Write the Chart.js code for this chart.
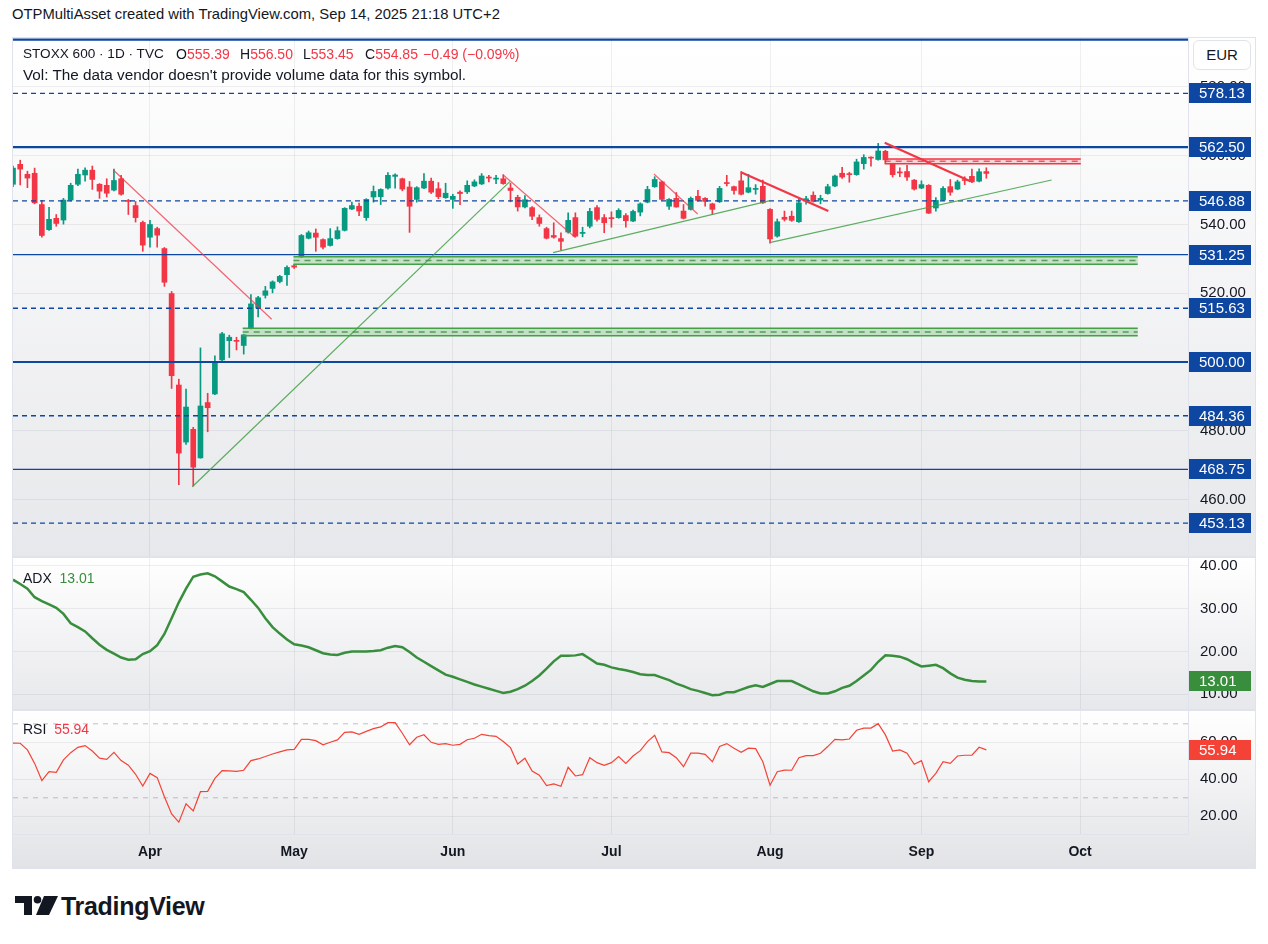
<!DOCTYPE html>
<html>
<head>
<meta charset="utf-8">
<script src="https://cdn.jsdelivr.net/npm/chart.js@4.4.1/dist/chart.umd.min.js"></script>
<style>
html,body{margin:0;padding:0;background:#fff;}
body{width:1268px;height:944px;position:relative;overflow:hidden;font-family:"Liberation Sans",Arial,sans-serif;color:#131722;}
.a{position:absolute;white-space:nowrap;}
canvas{position:absolute;display:block;}
.r{color:#f23645;}
.g{color:#388e3c;}
</style>
</head>
<body>
<div class="a" style="left:12px;top:5px;font-size:14.8px;line-height:18px;">OTPMultiAsset created with TradingView.com, Sep 14, 2025 21:18 UTC+2</div>
<div class="a" style="left:12px;top:37px;width:1242px;height:830px;border:1px solid #e0e3eb;"></div>
<canvas id="cPrice" width="1242" height="518" style="left:13px;top:38px;"></canvas>
<div class="a" style="left:13px;top:556px;width:1242px;height:2px;background:#e0e3eb;"></div>
<canvas id="cAdx" width="1242" height="151" style="left:13px;top:558px;"></canvas>
<div class="a" style="left:13px;top:709px;width:1242px;height:2px;background:#e0e3eb;"></div>
<canvas id="cRsi" width="1242" height="157" style="left:13px;top:711px;"></canvas>

<div class="a" style="left:23px;top:45px;font-size:13.6px;line-height:18px;">STOXX 600 · 1D · TVC</div>
<div class="a" id="lgO" style="left:176px;top:45px;font-size:14px;line-height:18px;"></div>
<div class="a" id="lgH" style="left:240px;top:45px;font-size:14px;line-height:18px;"></div>
<div class="a" id="lgL" style="left:303px;top:45px;font-size:14px;line-height:18px;"></div>
<div class="a" id="lgC" style="left:365px;top:45px;font-size:14px;line-height:18px;"></div>
<div class="a r" id="lgChg" style="left:423px;top:45px;font-size:14px;line-height:18px;"></div>
<div class="a" style="left:23px;top:66px;font-size:15.3px;line-height:18px;">Vol: The data vendor doesn't provide volume data for this symbol.</div>
<div class="a" style="left:1193px;top:40px;width:56px;height:28px;border:1px solid #e0e3eb;border-radius:6px;background:#fff;font-size:15px;line-height:28px;text-align:center;">EUR</div>

<div class="a" id="lgAdx" style="left:23px;top:569px;font-size:14px;line-height:18px;"></div>
<div class="a" id="lgRsi" style="left:23px;top:720px;font-size:14px;line-height:18px;"></div>

<svg class="a" style="left:15px;top:896px;" width="44" height="20" viewBox="0 0 44 20">
 <path d="M0 0H17V19H9V7H0Z" fill="#131722"/>
 <circle cx="22.5" cy="3.8" r="3.8" fill="#131722"/>
 <path d="M29 0H43L34 19H21Z" fill="#131722"/>
</svg>
<div class="a" style="left:61px;top:891px;font-size:25px;font-weight:bold;line-height:30px;letter-spacing:-0.3px;">TradingView</div>

<script>
// ---------------- DATA ----------------
const firstBar = -19; // bar index of first visible candle (Apr 1 = 0)
const opens = [551.7,557.5,554.6,554.9,545.8,538.5,541.8,541.3,547.1,551.7,554.4,555.8,551.7,551.4,550.0,553.3,547.0,545.5,540.6,
536.3,538.8,533.0,519.9,493.3,476.7,480.4,472.1,488.2,490.7,500.6,506.2,506.3,504.8,509.8,515.7,519.4,521.4,523.4,525.4,
528.0,530.6,536.0,537.5,535.6,533.9,535.9,538.3,544.5,545.3,542.0,548.0,548.1,550.6,554.0,553.3,550.9,547.3,550.6,552.6,
550.4,547.8,547.3,549.4,549.5,551.2,551.8,553.8,553.2,553.3,550.6,547.9,545.1,544.9,542.0,538.8,536.8,535.9,537.8,542.0,
537.4,539.5,544.9,542.0,541.9,542.0,542.6,541.0,543.6,546.5,551.0,552.4,545.3,547.6,543.9,544.4,548.2,547.6,546.0,546.6,
552.2,551.0,552.7,549.4,550.2,551.1,544.4,536.6,542.1,542.4,540.8,546.8,548.5,547.1,549.0,551.2,554.9,554.7,554.5,557.7,
559.5,558.9,561.3,557.5,555.3,555.4,552.9,550.6,551.4,544.8,547.1,551.0,550.3,553.0,554.0,552.6,555.39];
const highs = [557.0,558.7,555.5,556.4,547.0,545.0,542.9,547.6,552.0,556.1,556.5,557.0,551.9,553.3,556.1,554.3,547.3,546.7,541.0,
541.2,539.2,533.3,520.5,495.0,492.1,481.0,504.1,490.9,501.8,508.6,507.8,507.2,508.0,519.6,519.1,522.0,523.6,525.2,528.0,
528.4,537.1,538.1,538.7,535.8,538.8,539.3,544.9,546.5,546.2,547.5,551.2,550.4,555.1,554.7,553.5,552.5,551.0,554.8,553.5,
552.2,552.0,548.8,549.8,552.7,553.0,554.8,554.3,554.3,554.5,552.0,548.5,548.4,545.2,542.8,539.2,540.5,537.6,543.4,543.4,
539.2,544.7,545.5,542.9,543.7,544.6,543.2,544.2,546.3,551.1,553.9,552.6,547.5,549.3,545.8,548.0,549.9,547.8,546.2,551.1,
554.3,551.2,555.4,554.6,551.6,552.9,544.6,541.6,543.9,543.9,547.3,548.2,549.5,548.5,551.7,554.4,556.6,555.2,559.0,560.3,
559.7,563.6,561.6,557.8,556.5,557.2,553.1,552.7,551.6,547.8,551.0,553.1,552.9,553.9,556.1,556.2,556.50];
const lows = [551.0,551.5,550.7,546.0,536.3,538.3,539.5,540.1,546.8,551.3,552.6,550.2,547.6,548.0,549.8,548.5,542.9,540.7,532.2,
533.4,533.4,522.0,492.3,464.3,476.0,463.9,472.0,479.7,490.5,500.4,501.3,503.5,502.3,509.6,513.1,518.6,520.1,523.0,522.3,
527.2,530.4,535.8,532.2,532.9,533.7,535.7,538.1,544.3,542.6,541.2,546.5,545.8,550.3,550.6,549.8,537.7,546.5,550.4,549.0,
547.5,547.6,544.7,545.8,549.0,551.0,551.6,552.4,551.9,551.7,546.6,543.9,544.8,541.4,539.5,535.8,536.0,532.5,537.5,536.3,
536.4,539.0,541.0,537.6,539.2,541.8,539.2,540.8,542.5,546.3,550.8,547.1,544.4,545.0,541.6,544.2,546.8,545.3,543.0,546.4,
551.2,548.8,548.6,549.2,548.8,546.1,534.6,536.3,541.0,540.9,540.6,545.9,546.5,546.0,548.8,551.0,553.4,552.3,554.3,556.1,
557.0,558.7,557.8,553.8,553.9,552.8,550.0,550.4,543.2,543.9,546.9,548.5,550.1,551.6,552.2,552.4,553.45];
const closes = [556.4,556.1,553.5,546.3,536.8,541.5,540.3,547.1,551.4,554.6,555.8,553.1,549.7,549.1,552.8,548.8,546.7,542.0,534.0,
540.0,536.9,523.2,496.0,473.5,486.9,469.4,487.2,486.7,499.9,508.2,507.2,506.0,507.9,516.9,518.7,520.7,523.3,524.9,527.5,
527.6,536.8,537.6,536.3,533.4,535.9,538.2,544.7,545.5,543.9,547.3,549.6,550.2,554.3,554.4,550.3,545.3,550.7,552.6,549.4,
548.1,549.1,548.2,549.0,551.4,552.4,554.1,553.5,553.5,551.9,549.9,545.1,547.2,542.4,540.3,536.0,536.3,535.1,541.2,536.6,
537.7,543.8,541.5,540.5,541.7,544.1,541.1,543.8,546.0,550.2,553.1,547.3,547.3,545.1,541.8,547.6,547.0,546.7,544.4,550.5,
551.9,549.9,548.8,550.7,550.5,546.3,535.8,540.8,541.5,541.2,546.3,547.5,546.7,547.6,551.0,554.1,553.8,554.5,558.2,559.5,
559.3,561.4,558.8,554.5,555.0,553.8,550.3,551.6,543.3,547.0,550.5,549.4,552.4,552.8,552.4,555.34,554.85];
const adx = [36.8,35.8,34.7,32.7,31.8,31.0,30.2,28.8,26.6,25.7,24.7,23.1,21.6,20.4,19.5,18.6,18.1,18.2,19.4,
20.1,21.5,24.1,27.8,31.5,34.7,37.5,38.0,38.3,37.6,36.4,35.2,34.6,33.9,32.1,30.2,27.8,25.7,24.2,22.8,
21.7,21.4,21.0,20.3,19.6,19.3,19.2,19.7,20.0,20.0,20.0,20.1,20.3,20.9,21.3,21.0,19.9,18.6,17.6,16.6,
15.6,14.6,14.1,13.5,12.9,12.3,11.8,11.3,10.8,10.3,10.6,11.2,12.0,13.1,14.4,16.0,17.7,19.0,19.0,19.1,
19.4,18.3,17.2,16.9,16.3,15.9,15.6,15.2,14.7,14.5,14.5,13.9,13.3,12.5,11.9,11.2,10.8,10.3,9.8,9.9,
10.5,10.5,11.1,11.7,12.1,11.7,12.4,13.1,13.1,13.1,12.3,11.5,10.7,10.2,10.2,10.7,11.5,12.0,13.1,14.4,
15.7,17.6,19.1,19.0,18.8,18.2,17.3,16.5,16.7,16.9,16.1,14.9,13.9,13.4,13.1,13.0,13.01];
const rsi = [59.6,59.5,55.9,48.6,39.3,44.1,43.8,50.5,54.4,57.3,58.2,55.3,51.4,50.8,54.6,50.1,47.6,42.7,36.4,
43.2,40.9,30.6,21.3,16.8,26.7,22.9,33.3,33.5,40.5,44.7,44.5,44.3,44.9,50.1,51.0,52.3,53.7,54.8,55.9,
56.2,61.6,61.6,60.9,58.6,60.0,61.3,65.4,65.6,64.3,65.9,67.4,68.3,70.6,70.6,64.9,58.7,62.7,64.1,60.0,
58.9,59.3,58.4,58.9,61.4,62.2,64.3,63.6,63.2,60.4,57.1,48.3,51.4,44.5,42.2,36.6,37.5,36.2,46.5,41.8,
42.5,51.7,49.0,47.6,49.0,52.3,48.6,52.6,55.5,60.4,63.8,54.8,54.4,51.7,46.8,54.1,54.1,53.5,49.5,57.7,
59.3,56.8,54.6,56.8,56.6,49.5,36.8,44.1,45.0,44.9,51.7,52.8,52.8,54.1,57.7,61.6,61.3,61.8,66.5,67.7,
67.7,70.1,64.0,55.3,55.9,54.1,48.1,50.1,38.7,43.2,49.5,48.6,52.6,53.0,53.0,57.3,55.94];

const monthTicks = [0, 20, 42, 64, 86, 107, 129];
const monthLabels = ['Apr', 'May', 'Jun', 'Jul', 'Aug', 'Sep', 'Oct'];
const priceTicks = [460, 480, 500, 520, 540, 560, 580];
const adxTicks = [10, 20, 30, 40];
const rsiTicks = [20, 40, 60];
const rsiBands = [70, 30];

const thickLevels = [593.75, 562.50, 500.00];
const thinLevels = [531.25, 468.75];
const dashedLevels = [578.13, 546.88, 515.63, 484.36, 453.13];
const labeledLevels = [578.13, 562.50, 546.88, 531.25, 515.63, 500.00, 484.36, 468.75, 453.13];

// trend lines: [barFrom, priceFrom, barTo, priceTo]
const redTrendsThin = [[-5.09, 555.85, 16.88, 512.42], [49.0, 554.40, 58.95, 536.28], [69.9, 554.69, 75.96, 543.05]];
const redTrendsThick = [[81.97, 555.19, 94.08, 543.93], [101.9, 563.80, 113.7, 552.65]];
const greenTrends = [[5.87, 463.72, 49.9, 552.45], [55.9, 531.80, 86.0, 546.92], [86.1, 534.82, 125.06, 552.95]];
// zones: [barFrom, barTo, priceHigh, priceLow]
const greenZones = [[19.9, 137.0, 530.63, 528.42], [12.86, 137.0, 509.80, 507.65]];
const redZones = [[101.9, 129.1, 559.06, 557.69]];

// ---------------- STYLE ----------------
const GREEN = '#089981', RED = '#f23645', BLUE = '#0d47a1', TXT = '#131722';
const GRID = 'rgba(42,46,57,0.07)', SEP = '#e0e3eb';
const FONT = '"Liberation Sans", Arial, sans-serif';
const xMin = -19.0, xMax = 143.97;
const n = opens.length;
const last = n - 1;

// legend texts from data
document.getElementById('lgO').innerHTML = 'O<span class="r">' + opens[last].toFixed(2) + '</span>';
document.getElementById('lgH').innerHTML = 'H<span class="r">' + highs[last].toFixed(2) + '</span>';
document.getElementById('lgL').innerHTML = 'L<span class="r">' + lows[last].toFixed(2) + '</span>';
document.getElementById('lgC').innerHTML = 'C<span class="r">' + closes[last].toFixed(2) + '</span>';
const chg = closes[last] - closes[last - 1];
const pct = chg / closes[last - 1] * 100;
const fmtS = v => (v < 0 ? '\u2212' : '+') + Math.abs(v).toFixed(2);
document.getElementById('lgChg').textContent = fmtS(chg) + ' (' + fmtS(pct) + '%)';
document.getElementById('lgAdx').innerHTML = 'ADX&nbsp;&nbsp;<span class="g">' + adx[last].toFixed(2) + '</span>';
document.getElementById('lgRsi').innerHTML = 'RSI&nbsp;&nbsp;<span class="r">' + rsi[last].toFixed(2) + '</span>';

// ---------------- PLUGINS ----------------
function bgPlugin(top, bottom) {
  return { id: 'bg', beforeDraw(c) {
    const ctx = c.ctx; const g = ctx.createLinearGradient(0, 0, 0, c.height);
    g.addColorStop(0, top); g.addColorStop(1, bottom);
    ctx.save(); ctx.fillStyle = g; ctx.fillRect(0, 0, c.width, c.height); ctx.restore();
  } };
}
function boxesPlugin(items) {
  return { id: 'boxes', afterDraw(c) {
    const ctx = c.ctx, y = c.scales.y, L = c.chartArea.right;
    ctx.save();
    items.forEach(it => {
      const py = Math.round(y.getPixelForValue(it.v));
      ctx.fillStyle = it.color; ctx.fillRect(L + 1, py - 10, 62, 20);
      ctx.fillStyle = '#fff'; ctx.font = '15px ' + FONT; ctx.textBaseline = 'middle'; ctx.textAlign = 'left';
      ctx.fillText(it.v.toFixed(2), L + 11, py + 1);
    });
    ctx.restore();
  } };
}
const zonesPlugin = { id: 'zones', afterDatasetsDraw(c) {
  const ctx = c.ctx, a = c.chartArea, x = c.scales.x, y = c.scales.y;
  ctx.save(); ctx.beginPath(); ctx.rect(a.left, a.top, a.right - a.left, a.bottom - a.top); ctx.clip();
  const draw = (z, fill, line, mid) => {
    const x1 = x.getPixelForValue(z[0]), x2 = x.getPixelForValue(z[1]);
    const y1 = y.getPixelForValue(z[2]), y2 = y.getPixelForValue(z[3]);
    ctx.fillStyle = fill; ctx.fillRect(x1, y1, x2 - x1, y2 - y1);
    ctx.strokeStyle = line; ctx.lineWidth = 1.5; ctx.setLineDash([]);
    ctx.beginPath(); ctx.moveTo(x1, y1); ctx.lineTo(x2, y1); ctx.moveTo(x1, y2); ctx.lineTo(x2, y2); ctx.stroke();
    const ym = y.getPixelForValue((z[2] + z[3]) / 2);
    ctx.strokeStyle = mid; ctx.lineWidth = 1.5; ctx.setLineDash([6, 5]);
    ctx.beginPath(); ctx.moveTo(x1, ym); ctx.lineTo(x2, ym); ctx.stroke();
  };
  greenZones.forEach(z => draw(z, 'rgba(76,175,80,0.28)', '#43a047', 'rgba(56,142,60,0.8)'));
  redZones.forEach(z => draw(z, 'rgba(242,54,69,0.2)', '#f23645', 'rgba(242,54,69,0.8)'));
  ctx.restore();
} };

// ---------------- SCALES ----------------
const noPad = s => { s.paddingTop = 0; s.paddingBottom = 0; s.paddingLeft = 0; s.paddingRight = 0; };
function xScale(showLabels) {
  return { type: 'linear', min: xMin, max: xMax, offset: false,
    afterBuildTicks: s => { s.ticks = monthTicks.map(v => ({ value: v })); },
    ticks: { display: showLabels, autoSkip: false, maxRotation: 0, padding: 10, color: TXT,
      font: { family: FONT, size: 14, weight: 'bold' },
      callback: v => { const k = monthTicks.indexOf(v); return k >= 0 ? monthLabels[k] : ''; } },
    grid: { color: GRID, drawTicks: false, offset: false },
    border: { display: showLabels, color: SEP },
    afterFit: s => { s.height = showLabels ? 34 : 0; noPad(s); } };
}
function yScale(min, max, ticks) {
  return { type: 'linear', position: 'right', min: min, max: max,
    afterBuildTicks: s => { s.ticks = ticks.map(v => ({ value: v })); },
    ticks: { color: TXT, font: { family: FONT, size: 15 }, padding: 12, callback: v => Number(v).toFixed(2) },
    grid: { color: GRID, drawTicks: false },
    border: { display: true, color: SEP },
    afterFit: s => { s.width = 67; noPad(s); } };
}
const baseOpts = { responsive: false, animation: false, events: [], layout: { padding: 0 },
  plugins: { legend: { display: false }, tooltip: { enabled: false } } };

function seg(t, color, width, order, dash) {
  return { type: 'line', data: [{ x: t[0], y: t[1] }, { x: t[2], y: t[3] }], borderColor: color,
    borderWidth: width, pointRadius: 0, order: order, borderDash: dash || [], tension: 0 };
}

// ---------------- PRICE ----------------
const candleColors = opens.map((o, k) => closes[k] >= o ? GREEN : RED);
const priceDatasets = [];
redTrendsThin.forEach(t => priceDatasets.push(seg(t, 'rgba(242,54,69,0.75)', 1.2, 0)));
redTrendsThick.forEach(t => priceDatasets.push(seg(t, RED, 2.2, 0)));
greenTrends.forEach(t => priceDatasets.push(seg(t, 'rgba(67,160,71,0.85)', 1.2, 0)));
thickLevels.forEach(v => priceDatasets.push(seg([xMin, v, xMax, v], BLUE, 2.2, 1)));
thinLevels.forEach(v => priceDatasets.push(seg([xMin, v, xMax, v], BLUE, 1.3, 1)));
dashedLevels.forEach(v => priceDatasets.push(seg([xMin, v, xMax, v], BLUE, 1.3, 1, [5, 4])));
priceDatasets.push({ type: 'bar', data: opens.map((o, k) => ({ x: firstBar + k, y: [o, closes[k]] })),
  backgroundColor: candleColors, barThickness: 5, grouped: false, order: 5, minBarLength: 1, borderWidth: 0 });
priceDatasets.push({ type: 'bar', data: opens.map((o, k) => ({ x: firstBar + k, y: [lows[k], highs[k]] })),
  backgroundColor: candleColors, barThickness: 1, grouped: false, order: 6, borderWidth: 0 });

new Chart(document.getElementById('cPrice'), {
  type: 'bar',
  data: { datasets: priceDatasets },
  options: Object.assign({}, baseOpts, { scales: { x: xScale(false), y: yScale(443.56, 594.25, priceTicks) } }),
  plugins: [bgPlugin('#ffffff', '#e7e8eb'), zonesPlugin, boxesPlugin(labeledLevels.map(v => ({ v: v, color: BLUE })))]
});

// ---------------- ADX ----------------
new Chart(document.getElementById('cAdx'), {
  type: 'line',
  data: { datasets: [{ data: adx.map((v, k) => ({ x: firstBar + k, y: v })), borderColor: '#388e3c', borderWidth: 2.5,
    pointRadius: 0, tension: 0 }] },
  options: Object.assign({}, baseOpts, { scales: { x: xScale(false), y: yScale(6.56, 41.87, adxTicks) } }),
  plugins: [bgPlugin('#ffffff', '#e7e8eb'), boxesPlugin([{ v: adx[last], color: '#388e3c' }])]
});

// ---------------- RSI ----------------
const rsiDatasets = [{ data: rsi.map((v, k) => ({ x: firstBar + k, y: v })), borderColor: '#f44336', borderWidth: 1.2,
  pointRadius: 0, tension: 0, order: 0 }];
rsiBands.forEach(v => rsiDatasets.push(seg([xMin, v, xMax, v], 'rgba(120,123,134,0.45)', 1, 1, [5, 5])));
new Chart(document.getElementById('cRsi'), {
  type: 'line',
  data: { datasets: rsiDatasets },
  options: Object.assign({}, baseOpts, { scales: { x: xScale(true), y: yScale(10.43, 76.92, rsiTicks) } }),
  plugins: [bgPlugin('#ffffff', '#e2e3e6'), boxesPlugin([{ v: rsi[last], color: '#f44336' }])]
});
</script>
</body>
</html>
